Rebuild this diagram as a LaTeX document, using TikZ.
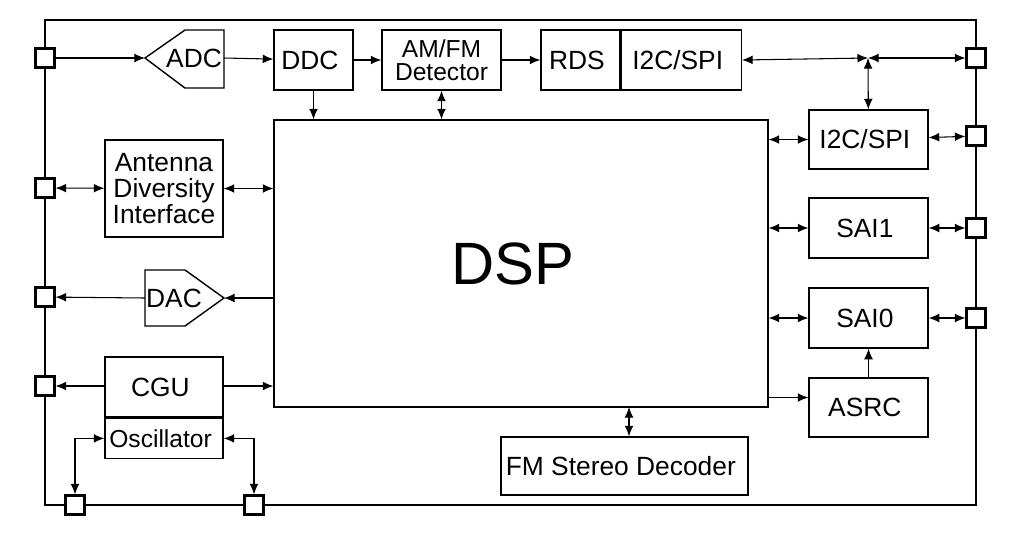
\documentclass[tikz,border=0pt]{standalone}
\usepackage{fontspec}
\setmainfont{Liberation Sans}
\usetikzlibrary{positioning, arrows.meta}

\begin{document}
\begin{tikzpicture}[x = 0.02cm, y = -0.02cm, >={Latex[length=6pt, width=5pt]},
    blk/.style = { draw, thick, align = center, font = \fontsize{15}{15}\selectfont, inner sep = 0pt },
    pin/.style = { draw, very thick, fill = white, minimum size = 0.38cm, inner sep = 0pt },
    link/.style = { semithick }]
    \useasboundingbox (0, 0) rectangle (1016, 542);
    % frame
    \draw[very thick] (45, 20) rectangle (976, 505);

    % pins
    \foreach \y/\n in {58/l1, 188/l2, 297/l3, 386/l4} { \node[pin] (\n) at (45, \y) {}; }
    \foreach \y/\n in {58/r1, 136/r2, 228/r3, 318/r4} { \node[pin] (\n) at (976, \y) {}; }
    \node[pin] (b1) at (75, 505) {};
    \node[pin] (b2) at (254, 505) {};

    % blocks
    \node[blk, minimum width = 9.88cm, minimum height = 5.74cm, font = \fontsize{34}{34}\selectfont] (dsp) at (521, 263.5) { DSP };
    \node[blk, minimum width = 1.58cm, minimum height = 1.2cm] (ddc) at (313.5, 60) { DDC };
    \node[blk, minimum width = 2.38cm, minimum height = 1.2cm, font = \fontsize{14}{13}\selectfont] (det) at (441.5, 60) { AM/FM\\Detector };
    \node[blk, minimum width = 1.58cm, minimum height = 1.2cm] (rds) at (580.5, 60) { RDS };
    \node[blk, minimum width = 2.4cm, minimum height = 1.2cm, right = 0 of rds] (i2ca) { I2C/SPI };
    \node[blk, minimum width = 2.38cm, minimum height = 1.18cm] (i2cb) at (868.5, 139.5) { I2C/SPI };
    \node[blk, minimum width = 2.38cm, minimum height = 1.2cm] (sai1) at (868.5, 228) { SAI1 };
    \node[blk, minimum width = 2.38cm, minimum height = 1.2cm] (sai0) at (868.5, 318) { SAI0 };
    \node[blk, minimum width = 2.38cm, minimum height = 1.18cm] (asrc) at (868.5, 407.5) { ASRC };
    \node[blk, minimum width = 2.36cm, minimum height = 1.94cm] (ant) at (164, 188.5) { Antenna\\Diversity\\Interface };
    \node[blk, minimum width = 4.94cm, minimum height = 1.16cm] (fms) at (624.5, 466) { FM Stereo Decoder };
    \node[blk, minimum width = 2.36cm, minimum height = 1.2cm] (cgu) at (164, 387) { CGU };
    \node[blk, minimum width = 2.36cm, minimum height = 0.8cm, below = 0 of cgu, font = \fontsize{14}{14}\selectfont] (osc) { Oscillator };

    % converters
    \draw[thick] (145, 58) -- (185, 30) -- (224, 30) -- (224, 88) -- (185, 88) -- cycle;
    \node[font = \fontsize{15}{15}\selectfont] (adc) at (194, 58) { ADC };
    \coordinate (adcin) at (145, 58);
    \coordinate (adcout) at (224, 58);
    \draw[thick] (224, 298) -- (185, 326) -- (145, 326) -- (145, 270) -- (185, 270) -- cycle;
    \node[font = \fontsize{15}{15}\selectfont] (dac) at (174, 298) { DAC };
    \coordinate (dacin) at (224, 298);
    \coordinate (dacout) at (145, 298);

    % connectors
    \draw[link, ->] (l1) -- (adcin);
    \draw[link, ->] (adcout) -- (ddc);
    \draw[link, ->] (ddc) -- (det);
    \draw[link, ->] (det) -- (rds);
    \draw[link, ->] (ddc.south) -- (ddc.south |- dsp.north);
    \draw[link, <->] (det.south) -- (det.south |- dsp.north);
    \coordinate (hub) at (868, 58);
    \draw[link, <->] (i2ca.east) -- (hub);
    \draw[link, <->] (hub) -- (r1);
    \draw[link, <->] (hub) -- (i2cb);
    \draw[link, <->] (ant) -- (l2);
    \draw[link, <->] (ant) -- (ant -| dsp.west);
    \draw[link, ->] (dacin -| dsp.west) -- (dacin);
    \draw[link, ->] (dacout) -- (l3);
    \draw[link, ->] (cgu.west |- l4) -- (l4);
    \draw[link, ->] (cgu.east |- l4) -- (dsp.west |- l4);
    \foreach \b/\p in {i2cb/r2, sai1/r3, sai0/r4} {
      \draw[link, <->] (dsp.east |- \b) -- (\b);
      \draw[link, <->] (\b) -- (\p);
    }
    \draw[link, ->] (dsp.east |- asrc.west) ++(0, -10) coordinate (dspa) -- (dspa -| asrc.west);
    \draw[link, ->] (asrc) -- (sai0);
    \draw[link, <->] (fms.north -| 629, 0) -- (629, 407);
    \draw[link, <->] (osc.west) -| (b1);
    \draw[link, <->] (osc.east) -| (b2);
\end{tikzpicture}
\end{document}
